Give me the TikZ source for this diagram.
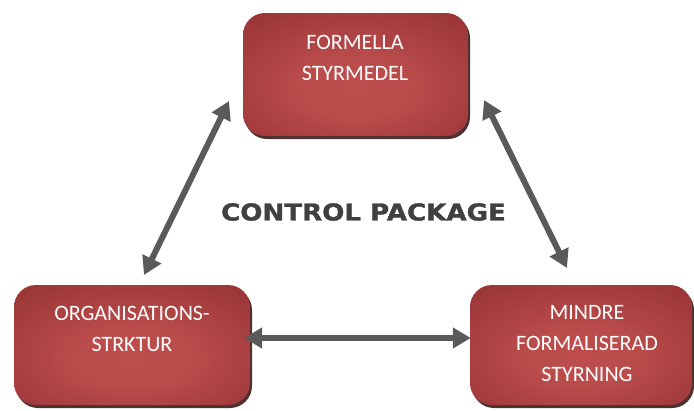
\documentclass[tikz,border=0pt]{standalone}
\usepackage{fontspec}
\setmainfont{Carlito}
\newfontfamily\titlefont[FakeBold=1.3]{DejaVu Sans Bold}
\usetikzlibrary{arrows.meta,shadows}
\definecolor{boxin}{HTML}{BE4E4E}
\definecolor{boxout}{HTML}{8E2D2E}
\definecolor{arrowgray}{HTML}{5A5A5A}
\definecolor{titlegray}{HTML}{404040}
\pgfdeclareradialshading{boxshade}{\pgfpoint{0bp}{-6bp}}{color(0bp)=(boxin); color(12bp)=(boxin!92!boxout); color(45bp)=(boxout); color(80bp)=(boxout)}
\tikzset{
  redbox/.style={draw=none, rounded corners=22pt, shading=boxshade,
    drop shadow={shadow xshift=2pt, shadow yshift=-3pt, fill=black!70!boxout, opacity=0.85}},
  boxtext/.style={text=white, align=center, font=\fontsize{22}{31}\selectfont},
  dblarrow/.style={draw=arrowgray, line width=6pt, {Triangle[length=18pt,width=20pt]}-{Triangle[length=18pt,width=20pt]}}
}
\begin{document}
\begin{tikzpicture}[x=1pt,y=-1pt]
\useasboundingbox (0,0) rectangle (694,410);
\node[redbox, minimum width=225pt, minimum height=123pt] (top) at (355.5,74.5) {};
\node[redbox, minimum width=236pt, minimum height=120pt] (bl) at (132,345) {};
\node[redbox, minimum width=222pt, minimum height=120pt] (br) at (581,345) {};
\node[boxtext] (toptext) at (355,58) {FORMELLA\\STYRMEDEL};
\node[boxtext] (bltext) at (132,329) {ORGANISATIONS-\\STRKTUR};
\node[boxtext] (brtext) at (587,344) {MINDRE\\FORMALISERAD\\STYRNING};
\node[text=titlegray, font=\titlefont\fontsize{23.3}{28}\selectfont] (title) at (363.5,212) {\scalebox{1.12}[1]{CONTROL PACKAGE}};
\coordinate (la) at (229,101);
\coordinate (lb) at (144,275);
\coordinate (ra) at (484,100);
\coordinate (rb) at (567,268);
\draw[dblarrow] (lb) -- (la);
\draw[dblarrow] (ra) -- (rb);
\draw[dblarrow, shorten <=-6pt, shorten >=-1pt] (bl.east |- 0,338) -- (br.west |- 0,338);
\end{tikzpicture}
\end{document}
